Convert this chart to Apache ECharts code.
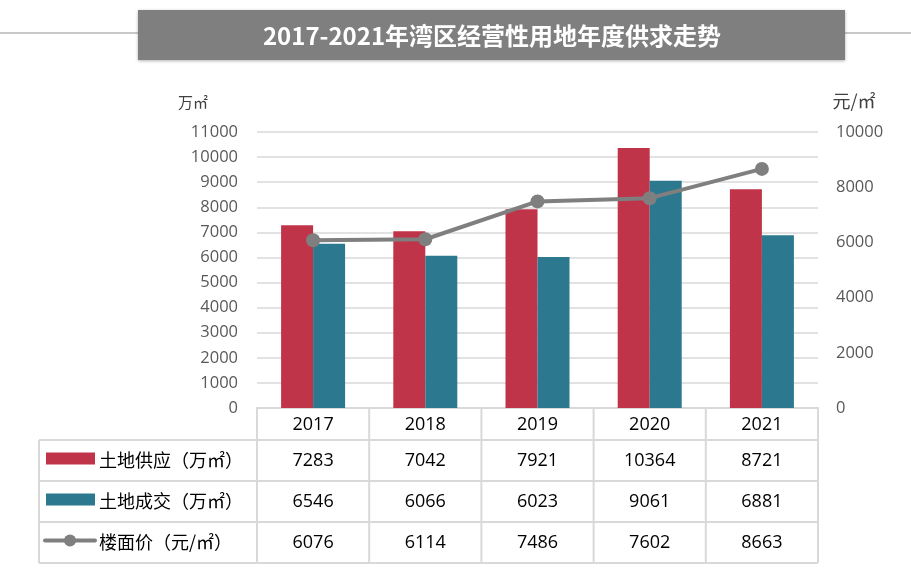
<!DOCTYPE html>
<html><head><meta charset="utf-8">
<script src="https://cdn.jsdelivr.net/npm/echarts@6/dist/echarts.min.js"></script>
<style>html,body{margin:0;padding:0;background:#fff}#c{width:911px;height:577px}</style>
</head><body><div id="c"></div>
<script>
const title = '2017-2021年湾区经营性用地年度供求走势';
const categories = ['2017','2018','2019','2020','2021'];
const supply = [7283,7042,7921,10364,8721];
const deal = [6546,6066,6023,9061,6881];
const price = [6076,6114,7486,7602,8663];
const seriesNames = ['土地供应（万㎡）','土地成交（万㎡）','楼面价（元/㎡）'];
const leftTicks = {min:0,max:11000,interval:1000};
const rightTicks = {min:0,max:10000,interval:2000};

const FONT = '"Noto Sans CJK SC", "Noto Sans", sans-serif';
const NUMFONT = '"Open Sans", "Noto Sans CJK SC", sans-serif';
const RED = '#c0344a', TEAL = '#2c788e', GRAY = '#7f7f7f', LINE = '#d9d9d9';
const chart = echarts.init(document.getElementById('c'), null, {renderer:'canvas'});
const G = {left:257, right:93, top:132, bottom:169};
chart.setOption({
  animation:false,
  textStyle:{fontFamily:FONT},
  grid:G,
  xAxis:{type:'category',data:categories,
    axisLine:{lineStyle:{color:LINE,width:2}},axisTick:{show:false},
    axisLabel:{color:'#000',fontSize:18,margin:8,fontFamily:NUMFONT}},
  yAxis:[
    {type:'value',min:leftTicks.min,max:leftTicks.max,interval:leftTicks.interval,
     name:'万㎡',nameGap:22,nameTextStyle:{color:'#404040',fontSize:15,align:'center',padding:[0,0,0,-128]},
     axisLabel:{color:'#595959',fontSize:16.5,margin:19,fontFamily:NUMFONT,formatter:v=>String(v)},
     splitLine:{lineStyle:{color:LINE,width:1.5}},axisLine:{show:false},axisTick:{show:false}},
    {type:'value',min:rightTicks.min,max:rightTicks.max,interval:rightTicks.interval,
     name:'元/㎡',nameGap:22,nameTextStyle:{color:'#404040',fontSize:18,align:'center',padding:[0,0,0,72]},
     axisLabel:{color:'#595959',fontSize:16.5,margin:18,fontFamily:NUMFONT,formatter:v=>String(v)},
     splitLine:{show:false},axisLine:{show:false},axisTick:{show:false}}
  ],
  series:[
    {type:'bar',name:seriesNames[0],data:supply,barWidth:32,barGap:'0%',itemStyle:{color:RED}},
    {type:'bar',name:seriesNames[1],data:deal,barWidth:32,barGap:'0%',itemStyle:{color:TEAL}},
    {type:'line',name:seriesNames[2],data:price,yAxisIndex:1,symbol:'circle',symbolSize:14,
     lineStyle:{color:GRAY,width:4},itemStyle:{color:GRAY},z:5}
  ]
});

const x0 = chart.convertToPixel({xAxisIndex:0}, categories[0]);
const x1 = chart.convertToPixel({xAxisIndex:0}, categories[1]);
const band = x1 - x0;
const plotLeft = x0 - band/2;
const plotRight = plotLeft + band*categories.length;
const yZero = chart.convertToPixel({yAxisIndex:0}, 0);
const tableLeft = 39;
const rowY = [yZero, yZero+32, yZero+73, yZero+114, yZero+155];
const els = [];
els.push({type:'line',shape:{x1:0,y1:33,x2:911,y2:33},style:{stroke:'#c8c8c8',lineWidth:2},z:0});
els.push({type:'rect',shape:{x:138,y:10,width:707,height:50},style:{fill:'#7f7f7f',shadowBlur:3,shadowColor:'rgba(0,0,0,0.3)',shadowOffsetY:1},z:1});
els.push({type:'text',x:492,y:36,style:{text:title,fill:'#fff',font:'bold 24px '+FONT,align:'center',verticalAlign:'middle'},z:2});
const ls = {stroke:LINE,lineWidth:2};
els.push({type:'line',shape:{x1:plotLeft,y1:rowY[0],x2:plotRight,y2:rowY[0]},style:ls});
for (let r=1;r<rowY.length;r++) els.push({type:'line',shape:{x1:tableLeft,y1:rowY[r],x2:plotRight,y2:rowY[r]},style:ls});
els.push({type:'line',shape:{x1:tableLeft,y1:rowY[1],x2:tableLeft,y2:rowY[4]},style:ls});
for (let c=0;c<=categories.length;c++){
  const xx = plotLeft + band*c;
  els.push({type:'line',shape:{x1:xx,y1:rowY[0],x2:xx,y2:rowY[4]},style:ls});
}
const rows = [supply, deal, price];
rows.forEach((arr,r)=>{
  const cy = (rowY[r+1]+rowY[r+2])/2;
  arr.forEach((v,i)=>{
    const cx = chart.convertToPixel({xAxisIndex:0}, categories[i]);
    els.push({type:'text',x:cx,y:cy,style:{text:String(v),fill:'#000',font:'18px '+NUMFONT,align:'center',verticalAlign:'middle'}});
  });
  els.push({type:'text',x:99,y:cy,style:{text:seriesNames[r],fill:'#000',font:'18px '+FONT,align:'left',verticalAlign:'middle'}});
  if (r<2) {
    els.push({type:'rect',shape:{x:46,y:cy-8,width:49,height:12},style:{fill:r===0?RED:TEAL}});
  } else {
    els.push({type:'line',shape:{x1:45,y1:cy-2,x2:95,y2:cy-2},style:{stroke:GRAY,lineWidth:4,lineCap:'round'}});
    els.push({type:'circle',shape:{cx:70,cy:cy-2,r:6},style:{fill:GRAY}});
  }
});
chart.setOption({graphic:{elements:els}});
</script></body></html>
